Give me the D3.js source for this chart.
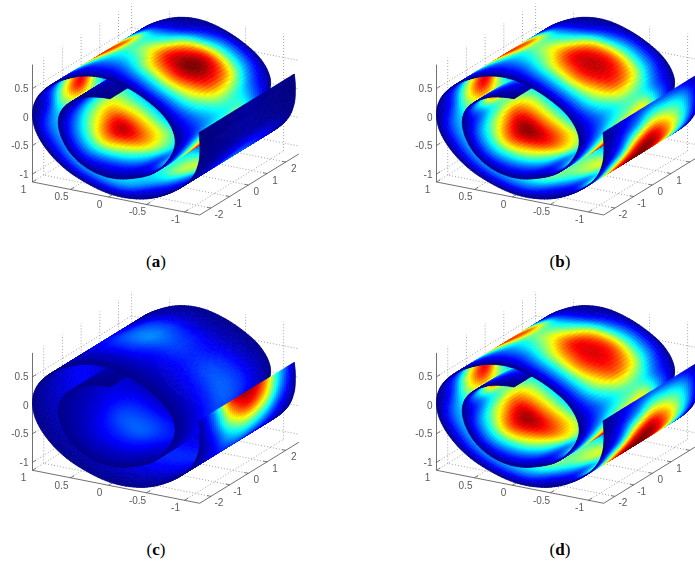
<!DOCTYPE html>
<html lang="en">
<head>
<meta charset="utf-8">
<title>scroll surfaces</title>
<script src="https://d3js.org/d3.v7.min.js"></script>
<style>
html,body{margin:0;padding:0;background:#fff;overflow:hidden}
text{font-family:"Liberation Sans",Arial,sans-serif;font-size:10px;fill:#5a5a5a}
text.cap{font-family:"Liberation Serif",serif;font-size:17px;fill:#000}
</style>
</head>
<body>
<svg id="chart" width="695" height="565"></svg>
<script>
// cross section of the rolled sheet
var sectionX = [-1.191,-1.204,-1.186,-1.094,-.897,-.634,-.371,-.064,.243,.55,.792,.954,1,.945,.792,.572,.331,.068,-.195,-.458,-.7,-.844,-.875,-.787,-.59,-.327,-.064,.2,.441,.594,.66,.629,.507,.309,.112,-.02]
var sectionZ = [.302,.06,-.238,-.525,-.782,-.98,-1.078,-1.089,-.994,-.812,-.554,-.245,.064,.342,.587,.773,.895,.93,.865,.72,.51,.257,0,-.284,-.57,-.727,-.796,-.749,-.578,-.326,-.051,.191,.381,.527,.579,.59]
// y stations of the value tables
var stationY = [-2.6,-1.75,-.9,-.05,.8,1.65,2.5]

// colour value in percent, one row per section point, one column per y station
var valuesA = [
[0,1,2,3,2,1,0],[0,1,2,3,2,1,0],[1,2,4,5,4,2,1],[1,6,12,18,15,8,1],[1,10,20,28,24,12,1],[1,12,25,45,45,25,1],
[1,15,35,55,50,25,1],[1,28,35,37,36,25,1],[1,33,40,42,40,25,1],[1,33,42,45,40,25,1],[1,28,42,45,40,25,1],[1,25,40,50,42,18,1],
[1,15,58,85,48,15,1],[1,20,60,85,55,18,1],[1,20,55,85,62,20,1],[1,15,45,75,72,20,1],[1,17,35,46,40,12,1],[1,20,42,58,40,11,1],
[1,30,68,88,70,24,1],[1,36,78,100,88,36,1],[1,30,62,82,72,32,1],[1,18,35,48,42,20,1],[1,15,30,40,45,22,1],[1,28,60,80,72,36,1],
[1,32,72,92,76,40,1],[1,12,22,32,26,16,1],[1,14,32,48,40,24,1],[1,20,50,74,62,30,1],[1,32,72,93,68,34,1],[1,30,60,74,54,26,1],
[1,20,40,48,38,18,1],[1,8,16,22,18,9,1],[1,6,12,16,13,7,1],[1,4,7,10,8,4,1],[1,3,5,7,6,3,1],[1,2,3,4,3,2,1]]
var valuesB = [
[1,8,15,20,18,12,1],[1,12,30,50,45,30,1],[1,25,72,90,72,40,1],[1,60,92,100,85,45,1],[1,50,85,100,85,45,1],[1,15,30,50,55,30,1],
[1,15,35,55,56,30,1],[1,28,50,45,42,30,1],[1,32,48,50,45,30,1],[1,33,46,50,45,30,1],[1,30,44,50,45,30,1],[1,26,45,55,45,20,1],
[1,18,60,86,50,16,1],[1,22,62,88,56,18,1],[1,22,56,86,62,20,1],[1,18,46,76,72,20,1],[1,18,36,50,42,13,1],[1,22,46,62,44,13,1],
[1,31,68,88,72,25,1],[1,35,76,93,82,34,1],[1,30,60,80,68,30,1],[1,18,34,46,42,20,1],[1,20,42,55,62,28,1],[1,30,65,85,80,40,1],
[1,35,75,95,85,42,1],[1,14,26,38,32,20,1],[1,20,42,62,52,30,1],[1,28,62,86,72,36,1],[1,36,78,98,74,38,1],[1,32,62,80,62,30,1],
[1,20,42,50,40,20,1],[1,40,85,85,70,35,1],[1,25,48,60,48,25,1],[1,15,28,35,28,15,1],[1,8,15,20,16,8,1],[1,4,8,10,8,4,1]]
var valuesC = [
[3,30,82,96,80,35,2],[2,24,64,82,66,28,1],[1,14,36,48,38,16,1],[1,8,18,24,20,10,1],[1,6,12,15,12,7,1],[1,6,12,16,13,7,1],
[1,6,12,16,13,7,1],[1,6,12,16,13,7,1],[1,6,11,15,12,6,1],[1,5,10,13,11,6,1],[1,5,9,12,10,5,1],[1,5,9,12,10,5,1],
[1,5,9,12,10,5,1],[1,5,9,12,10,5,1],[1,5,9,13,11,5,1],[1,5,10,15,12,6,1],[1,7,16,22,18,7,1],[1,8,18,26,19,7,1],
[1,7,14,20,16,6,1],[1,6,12,16,13,6,1],[1,7,14,20,16,7,1],[1,7,15,22,18,9,1],[1,7,15,20,16,8,1],[1,6,12,15,12,6,1],
[1,6,10,12,10,6,1],[1,5,9,13,10,5,1],[1,6,12,16,13,6,1],[1,7,15,22,17,7,1],[1,7,14,20,16,7,1],[1,5,9,12,10,5,1],
[1,4,6,8,7,4,1],[1,3,5,6,5,3,1],[1,3,5,6,5,3,1],[1,3,4,5,4,3,1],[1,2,3,4,3,2,1],[1,2,2,3,2,2,1]]
var valuesD = [
[1,8,15,20,18,12,1],[1,12,30,50,45,30,1],[1,25,72,90,72,40,1],[1,62,94,100,85,45,1],[1,50,85,100,85,45,1],[1,15,30,50,55,30,1],
[1,15,35,55,56,30,1],[1,28,50,45,42,30,1],[1,32,48,50,45,30,1],[1,33,46,50,45,30,1],[1,30,44,50,45,30,1],[1,26,45,55,45,20,1],
[1,18,60,84,50,16,1],[1,22,62,86,56,18,1],[1,22,56,84,62,20,1],[1,18,46,76,72,20,1],[1,18,36,50,42,13,1],[1,22,46,62,44,13,1],
[1,31,66,86,70,25,1],[1,34,74,90,80,34,1],[1,30,60,78,66,30,1],[1,18,34,46,42,20,1],[1,20,42,55,60,28,1],[1,30,65,85,78,40,1],
[1,35,75,92,82,42,1],[1,14,26,38,32,20,1],[1,20,42,62,52,30,1],[1,28,62,84,70,36,1],[1,36,78,96,72,38,1],[1,32,62,78,60,30,1],
[1,20,42,50,40,20,1],[1,40,85,85,70,35,1],[1,25,48,60,48,25,1],[1,15,28,35,28,15,1],[1,8,15,20,16,8,1],[1,4,8,10,8,4,1]]

var captions = ["a","b","c","d"]
var xTicks = [1,.5,0,-.5,-1]
var yTicks = [-2,-1,0,1,2]
var zTicks = [.5,0,-.5,-1]
var jetStops = [0,.125,.375,.625,.875,1]
var jetColors = ["#00007f","#0000ff","#00ffff","#ffff00","#ff0000","#7f0000"]

var xMin = -1.2, xMax = 1, yMin = -2.6, yMax = 2.7, zMin = -1.14, zMax = .92

// the box is drawn as three shears, x runs to the left
var xToH = d3.scaleLinear().domain([1,-1.2]).range([0,167.2])
var xToV = d3.scaleLinear().domain([1,-1.2]).range([0,33])
var yToH = d3.scaleLinear().domain([-2.6,2.7]).range([0,99.1])
var yToV = d3.scaleLinear().domain([-2.6,2.7]).range([0,-61])
var zToV = d3.scaleLinear().domain([0,1]).range([117,60])
var jet = d3.scaleLinear().domain(jetStops).range(jetColors).clamp(true)

function project(x,y,z){
    return [32.5+xToH(x)+yToH(y), zToV(z)+xToV(x)+yToV(y)]
}
function depth(x,y,z){
    return -40.4*x-31.1*y+21.1*z
}
function catmull(list,u){
    var n = list.length-1
    var i = Math.min(Math.floor(u),n-1), f = u-i
    var a = list[Math.max(i-1,0)], b = list[i], c = list[i+1], d = list[Math.min(i+2,n)]
    return .5*(2*b+(c-a)*f+(2*a-5*b+4*c-d)*f*f+(3*b-a-3*c+d)*f*f*f)
}

var svg = d3.select("#chart")
var panels = [[0,0,valuesA],[404,0,valuesB],[0,288.3,valuesC],[404,288.3,valuesD]]
var soft = svg.append("defs").append("filter").attr("id","soft")
soft.append("feGaussianBlur").attr("stdDeviation",.45)

panels.forEach(function(p,k){
    var g = svg.append("g").attr("transform","translate("+p[0]+","+p[1]+")").attr("filter","url(#soft)")
    drawBox(g,p[0])
    drawSheet(g,p[2])
    var cap = svg.append("text").attr("class","cap").attr("text-anchor","middle")
        .attr("x",p[0]+156).attr("y",p[1]+267)
    cap.append("tspan").text("(")
    cap.append("tspan").attr("font-weight","bold").text(captions[k])
    cap.append("tspan").text(")")
})

function segment(g,a,b,color,dash,width){
    g.append("line").attr("x1",a[0]).attr("y1",a[1]).attr("x2",b[0]).attr("y2",b[1])
        .attr("stroke",color).attr("stroke-width",width||.8).attr("stroke-dasharray",dash||null)
}
function drawBox(g,left){
    var grid = "#8a8a8a", dots = "1 2"
    // dotted grid on floor and the two back walls
    xTicks.forEach(function(x){
        segment(g,project(x,yMin,zMin),project(x,yMax,zMin),grid,dots)
        segment(g,project(x,yMax,zMin),project(x,yMax,zMax),grid,dots)
    })
    yTicks.forEach(function(y){
        segment(g,project(xMin,y,zMin),project(xMax,y,zMin),grid,dots)
        segment(g,project(xMax,y,zMin),project(xMax,y,zMax),grid,dots)
    })
    zTicks.forEach(function(z){
        segment(g,project(xMax,yMin,z),project(xMax,yMax,z),grid,dots)
        segment(g,project(xMax,yMax,z),project(xMin,yMax,z),grid,dots)
    })
    // solid axes
    var axis = "#606060"
    segment(g,project(xMax,yMin,zMin),project(xMin,yMin,zMin),axis,null,.9)
    segment(g,project(xMin,yMin,zMin),project(xMin,yMax,zMin),axis,null,.9)
    segment(g,project(xMax,yMin,zMin),project(xMax,yMin,zMax),axis,null,.9)
    xTicks.forEach(function(x){
        var a = project(x,yMin,zMin)
        segment(g,a,project(x,yMin+.2,zMin),axis)
        g.append("text").attr("x",a[0]-9).attr("y",a[1]+11).attr("text-anchor","middle").text(x)
    })
    yTicks.forEach(function(y){
        var a = project(xMin,y,zMin)
        segment(g,a,project(xMin+.05,y,zMin),axis)
        // the last label of the right panels falls off the page, as it does in the source
        if(left+a[0]+8<690) g.append("text").attr("x",a[0]+8).attr("y",a[1]+10).attr("text-anchor","middle").text(y)
    })
    zTicks.forEach(function(z){
        var a = project(xMax,yMin,z)
        segment(g,a,project(xMax,yMin+.2,z),axis)
        g.append("text").attr("x",a[0]-4).attr("y",a[1]+3.5).attr("text-anchor","end").text(z)
    })
}
function drawSheet(g,values){
    var perRow = 6, perCol = 8
    var nu = (sectionX.length-1)*perRow, nv = (stationY.length-1)*perCol
    var cells = []
    for(var i=0;i<nu;i++){
        var u0 = i/perRow, u1 = (i+1)/perRow, um = (u0+u1)/2
        var x0 = catmull(sectionX,u0), z0 = catmull(sectionZ,u0)
        var x1 = catmull(sectionX,u1), z1 = catmull(sectionZ,u1)
        for(var j=0;j<nv;j++){
            var v0 = j/perCol, v1 = (j+1)/perCol, vm = (v0+v1)/2
            var y0 = catmull(stationY,v0), y1 = catmull(stationY,v1)
            var column = values.map(function(r){return catmull(r,vm)})
            cells.push({
                pts:[project(x0,y0,z0),project(x1,y0,z1),project(x1,y1,z1),project(x0,y1,z0)],
                d:depth((x0+x1)/2,(y0+y1)/2,(z0+z1)/2),
                c:jet(catmull(column,um)/100)
            })
        }
    }
    cells.sort(function(a,b){return a.d-b.d})
    g.append("g").selectAll("polygon").data(cells).join("polygon")
        .attr("points",function(d){return d.pts.map(function(q){return q[0].toFixed(1)+","+q[1].toFixed(1)}).join(" ")})
        .attr("fill",function(d){return d.c})
        .attr("stroke",function(d){return d.c})
        .attr("stroke-width",.8)
}
</script>
</body>
</html>
